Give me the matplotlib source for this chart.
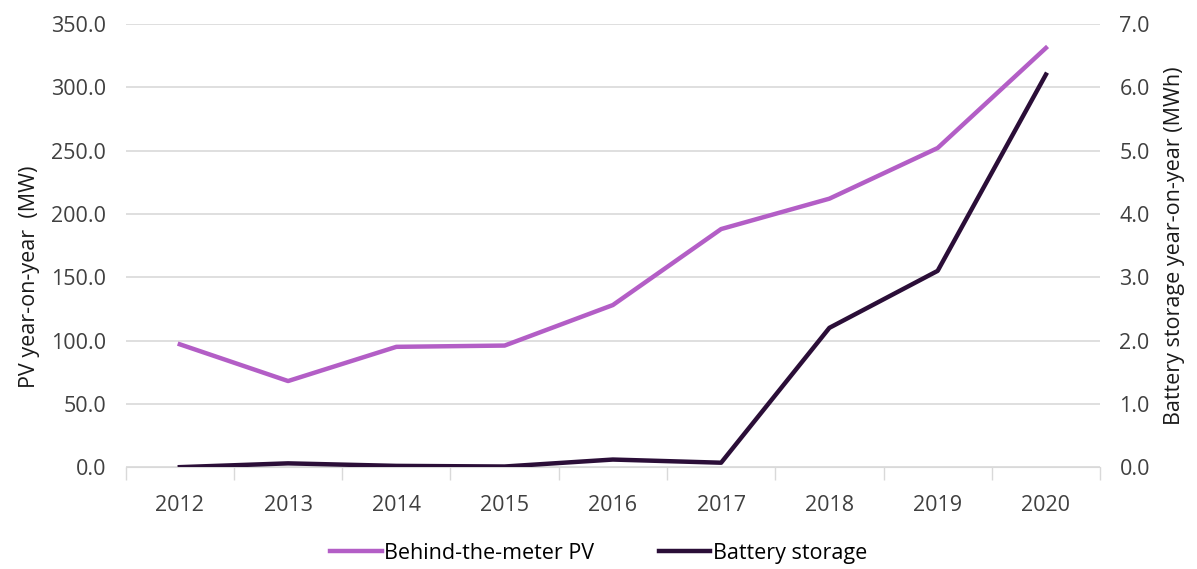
import numpy as np
import matplotlib.pyplot as plt
from matplotlib.ticker import FixedLocator, FormatStrFormatter

plt.rcParams['font.family'] = ['Open Sans', 'DejaVu Sans']

years = ['2012', '2013', '2014', '2015', '2016', '2017', '2018', '2019', '2020']
pv_mw = [97, 68, 95, 96, 128, 188, 212, 252, 331]
battery_mwh = [0.0, 0.06, 0.02, 0.01, 0.12, 0.07, 2.2, 3.1, 6.2]

pv_color = '#B35EC6'
bat_color = '#2B0E38'
grid_color = '#D9D9D9'
text_color = '#404040'
fs = 15.5

fig = plt.figure(figsize=(11.97, 5.69), dpi=100)
ax = fig.add_axes([0.105, 0.179, 0.814, 0.779])
ax2 = ax.twinx()

x = np.arange(len(years))
l1, = ax.plot(x, pv_mw, color=pv_color, lw=3.2, label='Behind-the-meter PV')
l2, = ax2.plot(x, battery_mwh, color=bat_color, lw=3.2, label='Battery storage')

ax.set_ylim(0, 350)
ax2.set_ylim(0, 7)
ax.set_yticks(np.arange(0, 351, 50))
ax2.set_yticks(np.arange(0, 7.1, 1))
ax.yaxis.set_major_formatter(FormatStrFormatter('%.1f'))
ax2.yaxis.set_major_formatter(FormatStrFormatter('%.1f'))
ax.set_xlim(-0.5, len(years) - 0.5)
ax.set_xticks(x)
ax.set_xticklabels(years)
ax.xaxis.set_minor_locator(FixedLocator(np.arange(-0.5, len(years), 1)))
ax.tick_params(axis='x', which='major', length=0, pad=20, labelsize=fs, colors=text_color)
ax.tick_params(axis='x', which='minor', length=9, width=1, color=grid_color, direction='out')
ax.tick_params(axis='y', length=0, pad=14, labelsize=fs, colors=text_color)
ax2.tick_params(axis='y', length=0, pad=14, labelsize=fs, colors=text_color)

ax.grid(axis='y', color=grid_color, lw=1.2)
ax.set_axisbelow(True)
for a in (ax, ax2):
    for s in ['top', 'left', 'right']:
        a.spines[s].set_visible(False)
    a.spines['bottom'].set_color(grid_color)
ax2.spines['bottom'].set_visible(False)

ax.set_ylabel('PV year-on-year  (MW)', fontsize=fs, color='#1a1a1a')
ax.yaxis.set_label_coords(-0.088, 0.43)
ax2.set_ylabel('Battery storage year-on-year (MWh)', fontsize=fs, color='#1a1a1a', labelpad=10)

fig.legend(handles=[l1, l2], loc='lower center', bbox_to_anchor=(0.5, -0.025), ncol=2,
           frameon=False, fontsize=fs, handlelength=2.4, handletextpad=0.1, columnspacing=3.0)

fig.savefig('out.png', dpi=100)
